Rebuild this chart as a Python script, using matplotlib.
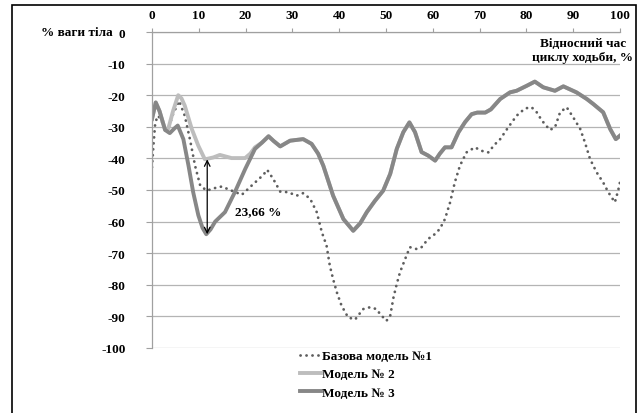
import matplotlib.pyplot as plt
from matplotlib.patches import Rectangle

# values (x = % of gait cycle, y = % body weight)
base_x = [0, 0.3, 0.7, 1.3, 2, 2.8, 3.6, 4.5, 5.8, 7, 8.1, 9.2, 10.3, 11.7, 13.1,
          14.9, 17, 19.2, 21.3, 23.8, 24.6, 25.9, 27.4, 29.1, 30.9, 32.3, 33.8,
          35.2, 36.3, 37.3, 38, 38.7, 39.5, 40.5, 41.9, 43.4, 45.1, 46.6, 48,
          48.7, 50.1, 50.9, 51.6, 52.3, 53, 54.1, 55.1, 56.6, 57.6, 59, 60.5,
          61.5, 62.6, 63.7, 64.7, 65.8, 67.2, 69, 70.4, 71.9, 73.1, 74.4, 76.1,
          77.9, 79.7, 81.1, 82.2, 83.3, 85, 86.1, 87.2, 88.6, 90, 91.5, 92.5,
          93.6, 95, 96.4, 97.5, 98.9, 99.6, 100]
base_y = [-42.8, -36, -28.6, -26.5, -28, -30.5, -30, -26, -21.8, -26.5, -33.9,
          -42.3, -48.6, -50.2, -49.5, -48.9, -50.2, -51.5, -48.6, -45.2, -43.6,
          -46.5, -50.5, -50.7, -51.8, -51, -52.8, -57, -63.4, -67.6, -74, -78.2,
          -82.4, -86.6, -90.3, -91, -87.7, -87.1, -87.7, -89.2, -91.4, -89.8,
          -84, -79.7, -76, -71.8, -68.1, -68.7, -68.1, -65.5, -63.9, -62.3,
          -59.2, -53.9, -47.6, -42.3, -38.1, -36.5, -37.6, -38.1, -35.8, -33.9,
          -30.2, -26.5, -24.2, -23.8, -25.4, -28, -31, -30.2, -25.4, -23.8, -27,
          -30.7, -34.9, -40.2, -44.4, -47.6, -50.7, -53.9, -50.2, -47.5]

# first part of the gait cycle, where models 2 and 3 differ
m2_head_x = [0, 0.8, 1.6, 2.8, 3.5, 4.5, 5.6, 6.3, 7, 8.5, 9.9, 11.3, 13.1, 14.5,
             17, 19.9, 21, 22]
m2_head_y = [-27.5, -22.3, -25, -31, -30.5, -25, -20, -21, -23.3, -30.7, -36,
             -40.3, -39.7, -38.9, -39.9, -39.9, -38.5, -36.5]
m3_head_x = [0, 0.8, 1.6, 2.8, 3.8, 4.8, 5.5, 6.7, 7.8, 8.8, 9.9, 10.8, 11.6,
             12.5, 13.5, 15.6, 17.7, 19.9, 22]
m3_head_y = [-27.5, -22.3, -25, -31, -32, -30.5, -29.6, -33.9, -42.3, -50.7,
             -58, -62, -64, -62.5, -60, -57, -50.7, -43.4, -37]

# rest of the cycle, shared by models 2 and 3
tail_x = [23.5, 24.9, 26, 27.4, 29.5, 32.3, 34.1, 35.5, 36.6, 38.7, 40.9, 43,
          44.5, 45.9, 47.6, 49.4, 50.9, 52.3, 53.7, 55, 56.2, 57.6, 59, 60.5,
          61.5, 62.6, 64, 65.5, 66.9, 68.3, 69.5, 71.2, 72.4, 74.4, 76.5, 77.9,
          80.1, 81.8, 83.6, 86.1, 87.9, 90.7, 92.9, 94.3, 96.4, 97.9, 99.1, 100]
tail_y = [-35, -33, -34.5, -36.2, -34.4, -33.9, -35.4, -38.5, -42.3, -51.8,
          -59.2, -62.9, -60.5, -57, -53.5, -50.2, -44.9, -37, -31.7, -28.6,
          -31.7, -38, -39.1, -40.7, -38.5, -36.5, -36.5, -31.7, -28.5, -26,
          -25.5, -25.5, -24.5, -21.2, -19.1, -18.6, -17, -15.7, -17.5, -18.6,
          -17.2, -19.1, -21.2, -22.8, -25.4, -30.7, -33.9, -32.8]

labels = ['Базова модель №1', 'Модель № 2', 'Модель № 3']
x_ticks = list(range(0, 101, 10))
y_ticks = list(range(-100, 1, 10))

font = 'Liberation Serif'
plt.rcParams['font.family'] = [font, 'DejaVu Serif']
plt.rcParams['font.weight'] = 'bold'
fs = 9.5

fig = plt.figure(figsize=(6.39, 4.14), dpi=100)
ax = fig.add_axes([152 / 639, 1 - 349 / 414, 468 / 639, 316 / 414])

# outer frame of the picture
fig.patches.append(Rectangle((12 / 639, -0.02), 624 / 639, 1.02 - 6 / 414,
                             transform=fig.transFigure, fill=False,
                             edgecolor='black', linewidth=1.2))

ax.plot(base_x, base_y, color='#5e5e5e', linewidth=2.0,
        linestyle=(0, (0.05, 2.1)), dash_capstyle='round', label=labels[0])
ax.plot(m2_head_x + tail_x, m2_head_y + tail_y, color='#bdbdbd',
        linewidth=2.8, label=labels[1])
ax.plot(m3_head_x + tail_x, m3_head_y + tail_y, color='#878787',
        linewidth=2.8, label=labels[2])

ax.set_xlim(0, 100)
ax.set_ylim(-100, 0)
ax.set_xticks(x_ticks)
ax.set_yticks(y_ticks)
ax.xaxis.tick_top()
ax.tick_params(axis='x', direction='out', length=3, color='#a0a0a0',
               labelsize=fs, pad=5)
ax.tick_params(axis='y', direction='out', length=4, color='#a0a0a0',
               labelsize=fs, pad=15)
ax.set_yticklabels([str(v) for v in y_ticks])
ax.grid(axis='y', color='#b4b4b4', linewidth=0.9)
for side in ['right', 'bottom']:
    ax.spines[side].set_visible(False)
for side in ['left', 'top']:
    ax.spines[side].set_color('#a0a0a0')
    ax.spines[side].set_linewidth(0.9)

# difference between model 2 and model 3 at the first trough
ax.annotate('', xy=(11.8, -40.3), xytext=(11.8, -64),
            arrowprops=dict(arrowstyle='<->', color='black', lw=0.9,
                            shrinkA=0, shrinkB=0))
ax.text(17.7, -56.6, '23,66 %', fontsize=fs, fontweight='bold',
        ha='left', va='center')

fig.text(113 / 639, 1 - 33 / 414, '% ваги тіла', fontsize=fs,
         fontweight='bold', ha='right', va='center')
fig.text(583 / 639, 1 - 51 / 414, 'Відносний час\nциклу ходьби, %',
         fontsize=fs, fontweight='bold', ha='center', va='center',
         linespacing=1.3)

fig.legend(loc='upper left', bbox_to_anchor=(300 / 639, 1 - 351 / 414),
           frameon=False, fontsize=fs, handlelength=1.6, handletextpad=0.1,
           labelspacing=0.45, borderpad=0, borderaxespad=0)

fig.savefig('out.png', dpi=100)
